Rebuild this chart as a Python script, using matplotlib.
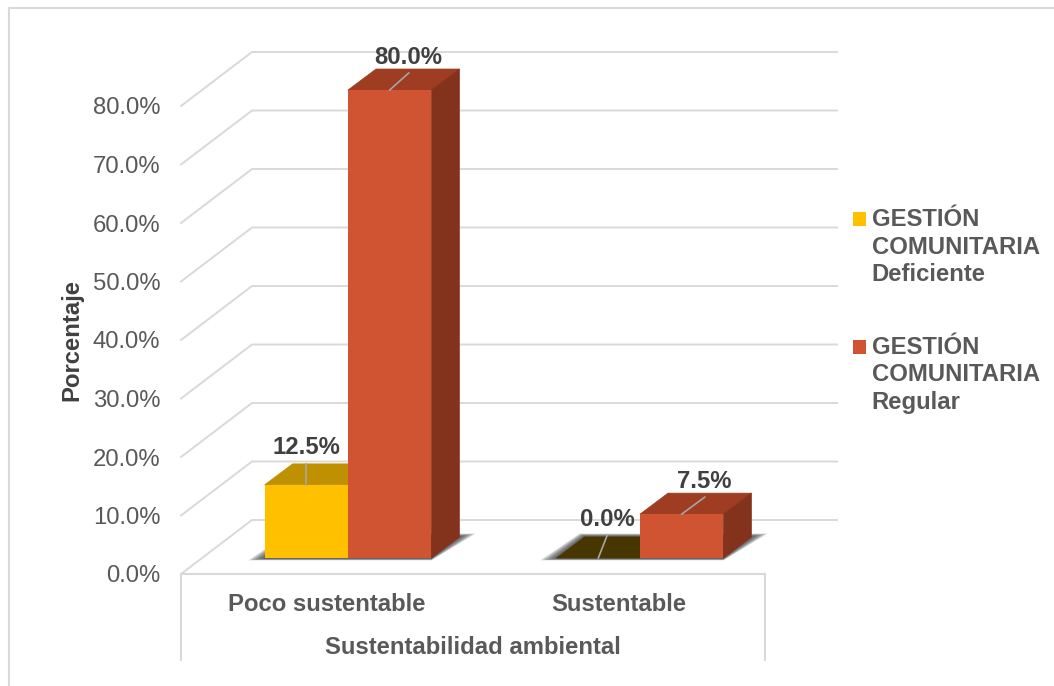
import matplotlib
matplotlib.use("Agg")
import matplotlib.pyplot as plt
from matplotlib.ticker import FuncFormatter

# ---- data ----
categories = ["Poco sustentable", "Sustentable"]
deficiente = [12.5, 0.0]
regular = [80.0, 7.5]
series_names = ["GESTIÓN\nCOMUNITARIA\nDeficiente", "GESTIÓN\nCOMUNITARIA\nRegular"]
y_ticks = [0, 10, 20, 30, 40, 50, 60, 70, 80]
x_title = "Sustentabilidad ambiental"
y_title = "Porcentaje"

# ---- style ----
W, H = 1054, 686
plt.rcParams["font.family"] = ["Liberation Sans", "DejaVu Sans"]
FS = 17.2
GRID = "#d9d9d9"
TXT = "#595959"
DARK = "#404040"
LEAD = "#a6a6a6"
front_cols = ["#FFC000", "#D05432"]
top_cols = ["#BF9000", "#9E3D22"]
side_cols = ["#7F6000", "#83321B"]
zero_col = "#483600"

fig = plt.figure(figsize=(W / 100, H / 100), dpi=100, facecolor="white")
L, R, B, T = 181, 765, 574, 106
ax = fig.add_axes([L / W, 1 - B / H, (R - L) / W, (B - T) / H])
ax.set_xlim(-0.5, 1.5)
ax.set_ylim(0, 80)
ax.patch.set_alpha(0)
PX = 2 / (R - L)
PY = 80 / (B - T)

for s in ["top", "left", "right"]:
    ax.spines[s].set_visible(False)
ax.spines["bottom"].set_color(GRID)
ax.spines["bottom"].set_linewidth(1.5)

ax.set_yticks(y_ticks)
ax.yaxis.set_major_formatter(FuncFormatter(lambda v, _: f"{v:.1f}%"))
ax.set_xticks(range(len(categories)))
ax.set_xticklabels(categories, fontweight="bold")
ax.tick_params(axis="y", length=0, pad=15, labelsize=FS, labelcolor=TXT)
ax.tick_params(axis="x", length=0, pad=13.7, labelsize=FS, labelcolor=TXT)
ax.set_xlabel(x_title, fontsize=FS, fontweight="bold", color=TXT, labelpad=14.5)
ax.set_ylabel(y_title, fontsize=FS, fontweight="bold", color=DARK, labelpad=0)
ax.yaxis.set_label_coords((83 - L) / (R - L), 0.5)

# wall depth and gridlines
WX, WY = 71 * PX, 54 * PY
x_end = -0.5 + (837 - L) * PX
for v in y_ticks:
    ax.plot([-0.5, -0.5 + WX, x_end], [v, v + WY, v + WY], color=GRID, lw=1.4,
            clip_on=False, zorder=1, solid_joinstyle="miter")
# axis group separators below the floor
for xv in (-0.5, 1.5):
    ax.plot([xv, xv], [0, -86 * PY], color=GRID, lw=1.5, clip_on=False, zorder=1)

# chart frame (top and left only)
fig.add_artist(plt.Line2D([8.5 / W, 8.5 / W, 1], [0, 1 - 8 / H, 1 - 8 / H], color=GRID, lw=1.5))

# bars
BW = 83.4 * PX
DX, DY = 28 * PX, 21 * PY
SHIFT = 21 * PX
BASE = 16 * PY
series = [deficiente, regular]

# soft floor shadows
for i in range(len(categories)):
    x0 = i + SHIFT - BW
    x1 = i + SHIFT + BW
    for e in [16, 13, 10, 7, 4, 1]:
        low = BASE - (0.4 + e * 0.12) * PY
        high = BASE + (21.5 + e * 0.18) * PY
        ax.fill([x0 - e * PX, x1, x1 + DX + e * PX, x0 + DX - e * 0.3 * PX],
                [low, low, high, high],
                color="#303030", alpha=0.22, lw=0, clip_on=False, zorder=2)

handles = []
for k, vals in enumerate(series):
    xs = [i + SHIFT + (k - 0.5) * BW for i in range(len(categories))]
    bars = ax.bar(xs, vals, width=BW, bottom=BASE, color=front_cols[k], lw=0,
                  clip_on=False, zorder=3.1 + k)
    handles.append(bars)
    for x, v in zip(xs, vals):
        l, r, top = x - BW / 2, x + BW / 2, BASE + v
        tc = zero_col if v == 0 else top_cols[k]
        ax.fill([l, r, r + DX, l + DX], [top, top, top + DY, top + DY],
                facecolor=tc, edgecolor=tc, lw=0.5, clip_on=False, zorder=3 + k)
        if v > 0:
            ax.fill([r, r + DX, r + DX, r], [BASE, BASE + DY, top + DY, top],
                    facecolor=side_cols[k], edgecolor=side_cols[k], lw=0.5,
                    clip_on=False, zorder=3 + k)

# data labels with leader lines: (series, category, leader end dx, dy in px)
leaders = [(0, 0, 0, 21), (1, 0, 19, 17), (0, 1, 9, 23), (1, 1, 23, 17)]
for k, i, lx, ly in leaders:
    v = series[k][i]
    x = i + SHIFT + (k - 0.5) * BW
    y = BASE + v
    ax.plot([x, x + lx * PX], [y, y + ly * PY], color=LEAD, lw=1.2,
            clip_on=False, zorder=6)
    ax.text(x + lx * PX, y + (ly + 16) * PY, f"{v:.1f}%", ha="center", va="center",
            fontsize=FS, fontweight="bold", color=DARK, clip_on=False, zorder=7)

# legend
leg = fig.legend([h[0] for h in handles], series_names, loc="upper left",
                 bbox_to_anchor=(853 / W, 1 - 208 / H), bbox_transform=fig.transFigure,
                 frameon=False, fontsize=FS, labelcolor=TXT, borderpad=0, borderaxespad=0,
                 handlelength=0.54, handleheight=0.54, handletextpad=0.25, labelspacing=2.08,
                 prop={"weight": "bold", "size": FS})
for row in leg._legend_handle_box.get_children()[0].get_children():
    row.align = "top"
for t in leg.get_texts():
    t.set_linespacing(1.25)
for h in leg.legend_handles:
    h.set_y(h.get_y() - 2.9)

fig.savefig("out.png", dpi=100, facecolor="white")
